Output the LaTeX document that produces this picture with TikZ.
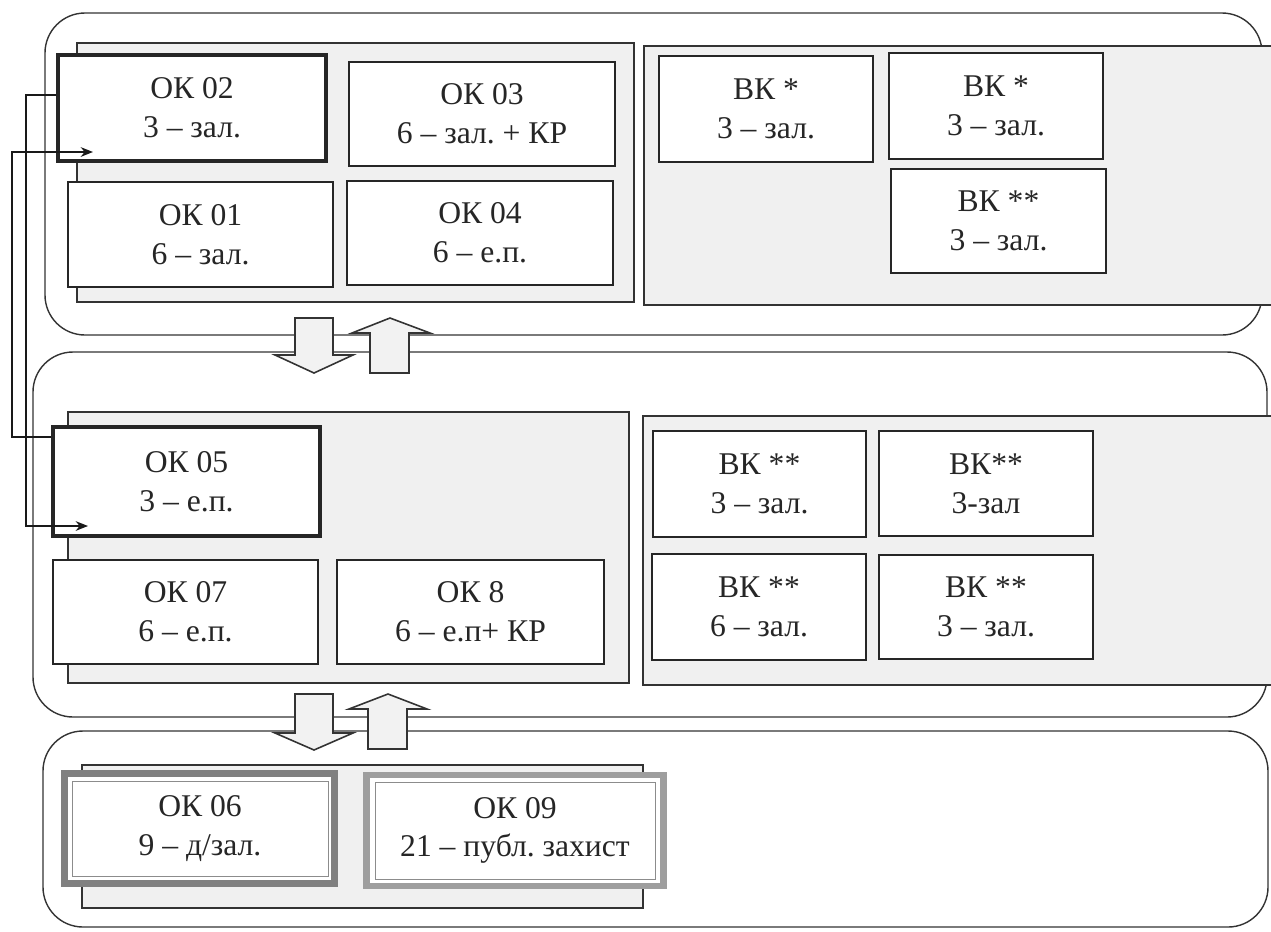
\documentclass[tikz,border=0pt]{standalone}
\usepackage{fontspec}
\setmainfont{Liberation Serif}
\usetikzlibrary{arrows.meta,calc}
\frenchspacing
\newcommand{\bx}[7]{\node[#2, minimum width={(#5-#3)*0.02cm}, minimum height={(#6-#4)*0.02cm}] (#1) at ({(#3+#5)/2},{(#4+#6)/2-1}) {#7};}
\begin{document}
\begin{tikzpicture}[x=0.02cm,y=-0.02cm,
  font=\fontsize{18}{22}\selectfont\frenchspacing,
  container/.style={draw=black!80, line width=0.8pt, rounded corners=0.8cm},
  panel/.style={draw=black!80, fill=black!6, line width=0.7pt},
  box/.style={draw=black!85, fill=white, line width=1pt, inner sep=0pt, align=center, text=black!85},
  thickbox/.style={box, line width=2.2pt},
  framebox/.style={box, draw=black!45, line width=0.5pt},
  bigarrow/.style={draw=black!80, fill=black!5, line width=0.9pt, line join=miter},
  conn/.style={draw=black!90, line width=0.9pt, -{Stealth[length=7pt,width=5.5pt]}},
]
\useasboundingbox (0,0) rectangle (1271,931);
\clip (0,0) rectangle (1271,931);
\fill[white] (0,0) rectangle (1271,931);

% containers
\draw[container] (45,13) rectangle (1262,335);
\draw[container] (33,352) rectangle (1267,717);
\draw[container] (43,731) rectangle (1268,927);

% panels
\draw[panel] (77,43) rectangle (634,302);
\draw[panel] (644,46) rectangle (1285,305);
\draw[panel] (68,412) rectangle (629,683);
\draw[panel] (643,416) rectangle (1285,685);
\draw[panel] (82,765) rectangle (643,908);

% big arrows between levels
\draw[bigarrow] (295,318) -- (333,318) -- (333,355) -- (353,355) -- (314,373) -- (275,355) -- (295,355) -- cycle;
\draw[bigarrow] (370,373) -- (409,373) -- (409,333) -- (430,333) -- (390,318) -- (352,333) -- (370,333) -- cycle;
\draw[bigarrow] (295,694) -- (333,694) -- (333,733) -- (353,733) -- (314,750) -- (275,733) -- (295,733) -- cycle;
\draw[bigarrow] (368,749) -- (407,749) -- (407,709) -- (427,709) -- (388,694) -- (349,709) -- (368,709) -- cycle;

% top level
\bx{ok02}{thickbox}{58}{56}{326}{162}{ОК 02\\3 – зал.}
\bx{ok03}{box}{349}{63}{615}{167}{ОК 03\\6 – зал. + КР}
\bx{ok01}{box}{68}{183}{333}{288}{ОК 01\\6 – зал.}
\bx{ok04}{box}{347}{182}{613}{286}{ОК 04\\6 – е.п.}
\bx{vk1}{box}{659}{57}{873}{163}{ВК *\\3 – зал.}
\bx{vk2}{box}{889}{54}{1103}{160}{ВК *\\3 – зал.}
\bx{vk3}{box}{891}{170}{1106}{274}{ВК **\\3 – зал.}

% middle level
\bx{ok05}{thickbox}{53}{428}{320}{537}{ОК 05\\3 – е.п.}
\bx{ok07}{box}{53}{561}{318}{665}{ОК 07\\6 – е.п.}
\bx{ok8}{box}{337}{561}{604}{665}{ОК 8\\6 – е.п+ КР}
\bx{vk4}{box}{653}{432}{866}{538}{ВК **\\3 – зал.}
\bx{vk5}{box}{879}{432}{1093}{537}{ВК**\\3-зал}
\bx{vk6}{box}{652}{555}{866}{661}{ВК **\\6 – зал.}
\bx{vk7}{box}{879}{556}{1093}{660}{ВК **\\3 – зал.}

% bottom level
\fill[black!50] (61,770) rectangle (338,887);
\fill[white] (68,777) rectangle (331,880);
\bx{ok06}{framebox}{72}{782}{328}{877}{ОК 06\\9 – д/зал.}
\fill[black!38] (363,772) rectangle (667,889);
\fill[white] (370,778) rectangle (660,883);
\bx{ok09}{framebox}{375}{783}{655}{880}{ОК 09\\21 – публ. захист}

% connectors
\coordinate (in02) at (93,152);
\coordinate (in05) at (88,526);
\draw[conn] ($(ok05.north west)+(0,12)$) -| (12,152) -- (in02);
\draw[conn] ($(ok02.north west)+(0,42)$) -| (26,526) -- (in05);
\end{tikzpicture}
\end{document}
